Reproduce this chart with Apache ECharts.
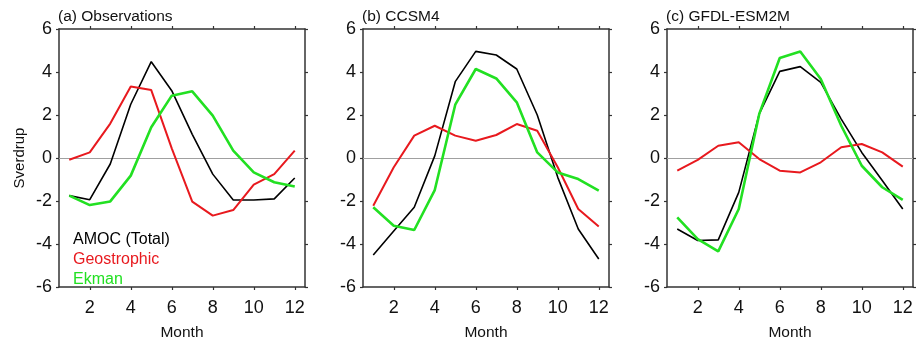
<!DOCTYPE html>
<html><head><meta charset="utf-8">
<script src="https://cdn.jsdelivr.net/npm/echarts@6/dist/echarts.min.js"></script>
<style>html,body{margin:0;padding:0;background:#fff}#c{width:918px;height:341px}</style>
</head><body><div id="c"></div>
<script>
const months = [1,2,3,4,5,6,7,8,9,10,11,12];
const panelTitles = ['(a) Observations', '(b) CCSM4', '(c) GFDL-ESM2M'];
const seriesNames = ['AMOC (Total)', 'Geostrophic', 'Ekman'];
const xTicks = [2,4,6,8,10,12];
const yTicks = [-6,-4,-2,0,2,4,6];

const obsTotal = [-1.75,-1.94,-0.28,2.5,4.48,3.13,1.1,-0.75,-1.95,-1.95,-1.9,-0.93];
const obsGeo   = [-0.08,0.26,1.6,3.33,3.16,0.45,-2.03,-2.68,-2.42,-1.24,-0.75,0.34];
const obsEkman = [-1.75,-2.19,-2.02,-0.82,1.43,2.9,3.1,1.97,0.34,-0.67,-1.13,-1.33];

const ccsmTotal = [-4.51,-3.4,-2.29,0.1,3.55,4.96,4.79,4.14,2.0,-0.9,-3.3,-4.7];
const ccsmGeo   = [-2.22,-0.43,1.04,1.5,1.04,0.8,1.07,1.58,1.27,-0.43,-2.37,-3.19];
const ccsmEkman = [-2.29,-3.15,-3.35,-1.49,2.48,4.14,3.7,2.59,0.26,-0.67,-0.98,-1.52];

const gfdlTotal = [-3.3,-3.84,-3.81,-1.6,2.05,4.03,4.25,3.52,1.81,0.26,-1.05,-2.37];
const gfdlGeo   = [-0.59,-0.09,0.57,0.73,-0.05,-0.59,-0.67,-0.2,0.5,0.65,0.26,-0.4];
const gfdlEkman = [-2.76,-3.77,-4.34,-2.37,2.05,4.65,4.95,3.67,1.5,-0.36,-1.36,-1.95];

const panelData = [[obsTotal,obsGeo,obsEkman],[ccsmTotal,ccsmGeo,ccsmEkman],[gfdlTotal,gfdlGeo,gfdlEkman]];
const colors = ['#000000','#e8191e','#22e022'];
const widths = [1.6,2,2.6];

const font = 'Liberation Sans, Arial, Helvetica, sans-serif';
const lefts = [59,363,667];
const grids=[], xAxes=[], yAxes=[], series=[], titles=[];
lefts.forEach((l,i)=>{
  grids.push({left:l, top:29, width:246, height:258, containLabel:false, outerBoundsMode:'none'});
  titles.push({text:panelTitles[i], left:l-1, top:9, padding:0, textStyle:{fontFamily:font,fontSize:15.5,fontWeight:'normal',color:'#111'}});
  const axLine = {show:true, onZero:false, lineStyle:{color:'#333', width:1.5}};
  const tick = {show:true, inside:false, length:3, lineStyle:{color:'#333', width:1.2}};
  xAxes.push({type:'value', gridIndex:i, min:0.5, max:12.5, position:'bottom',
    name:'Month', nameLocation:'middle', nameGap:38, nameTextStyle:{fontFamily:font,fontSize:15.5,color:'#111'},
    axisLine:axLine, axisTick:Object.assign({customValues:xTicks},tick),
    axisLabel:{customValues:xTicks, fontFamily:font, fontSize:18, color:'#111', margin:12},
    splitLine:{show:false}});
  xAxes.push({type:'value', gridIndex:i, min:0.5, max:12.5, position:'top',
    axisLine:axLine, axisTick:Object.assign({customValues:xTicks},tick),
    axisLabel:{show:false}, splitLine:{show:false}});
  yAxes.push({type:'value', gridIndex:i, min:-6, max:6, interval:2, position:'left',
    name: i===0 ? 'Sverdrup' : '', nameLocation:'middle', nameGap:32, nameRotate:90,
    nameTextStyle:{fontFamily:font,fontSize:15,color:'#111'},
    axisLine:axLine, axisTick:tick,
    axisLabel:{fontFamily:font, fontSize:18, color:'#111', margin:7},
    splitLine:{show:false}});
  yAxes.push({type:'value', gridIndex:i, min:-6, max:6, interval:2, position:'right',
    axisLine:axLine, axisTick:tick, axisLabel:{show:false}, splitLine:{show:false}});
  panelData[i].forEach((vals,k)=>{
    const s = {type:'line', name:seriesNames[k], xAxisIndex:2*i, yAxisIndex:2*i,
      data: months.map((m,j)=>[m, vals[j]]), showSymbol:false, symbol:'none',
      lineStyle:{color:colors[k], width:widths[k]}, itemStyle:{color:colors[k]},
      z: 3+k, animation:false};
    if(k===0){
      s.markLine = {silent:true, symbol:['none','none'], label:{show:false},
        lineStyle:{color:'#a0a0a0', width:1, type:'solid'}, data:[{yAxis:0}], z:1, animation:false};
    }
    series.push(s);
  });
});

const chart = echarts.init(document.getElementById('c'), null, {renderer:'canvas'});
chart.setOption({
  animation:false,
  backgroundColor:'#fff',
  title: titles,
  grid: grids,
  xAxis: xAxes,
  yAxis: yAxes,
  legend: {
    orient:'vertical', left:68, top:227, icon:'none', itemWidth:0, itemHeight:10, itemGap:4,
    selectedMode:false,
    data: seriesNames.map((n,k)=>({name:n, textStyle:{color:colors[k]}})),
    textStyle:{fontFamily:font, fontSize:16, padding:[0,0,0,-5]}
  },
  series: series
});
</script></body></html>
